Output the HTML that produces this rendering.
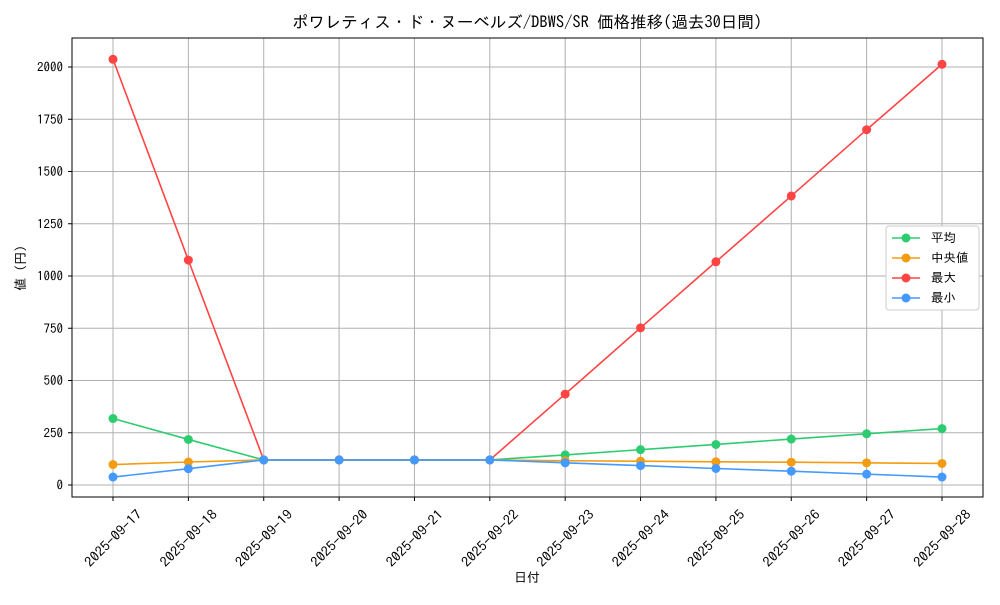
<!DOCTYPE html>
<html><head><meta charset="utf-8"><style>
body{margin:0;background:#fff;}
svg text{font-family:"IPAGothic","Noto Sans CJK JP",monospace;fill:#000;}
</style></head><body>
<svg id="chart" width="1000" height="600" xmlns="http://www.w3.org/2000/svg">
<rect width="1000" height="600" fill="#fff"/>
<text x="527" y="28" font-size="16.5" text-anchor="middle">ポワレティス・ド・ヌーベルズ/DBWS/SR 価格推移(過去30日間)</text>
<g id="grid"></g><g id="axes"></g><g id="series"></g>
<rect x="72" y="38" width="911" height="459" fill="none" stroke="#000" stroke-width="1"/>
<text x="527" y="582" font-size="13" text-anchor="middle">日付</text>
<text transform="translate(25,268) rotate(-90)" font-size="13" text-anchor="middle">値 (円)</text>
<g id="legend"></g>
</svg>
<script>
const dates=["2025-09-17","2025-09-18","2025-09-19","2025-09-20","2025-09-21","2025-09-22","2025-09-23","2025-09-24","2025-09-25","2025-09-26","2025-09-27","2025-09-28"];
const avgValues=[318,218,120,120,120,120,144,169,194,220,245,270];
const medianValues=[98,110,120,120,120,120,116,114,111,109,106,103];
const maxValues=[2037,1076,120,120,120,120,435,752,1068,1383,1700,2013];
const minValues=[38,78,120,120,120,120,106,93,79,66,52,38];
const yTicks=[0,250,500,750,1000,1250,1500,1750,2000];
const seriesNames=["平均","中央値","最大","最小"];
const ns="http://www.w3.org/2000/svg";
const X=i=>113+i*(942-113)/11;
const Y=v=>485-v*0.209;
function mk(t,a,p){const e=document.createElementNS(ns,t);for(const k in a)e.setAttribute(k,a[k]);p.appendChild(e);return e;}
const grid=document.getElementById('grid'),axes=document.getElementById('axes'),ser=document.getElementById('series'),leg=document.getElementById('legend');
yTicks.forEach(v=>{
 const l=mk('line',{x1:72,x2:983,y1:Y(v),y2:Y(v),stroke:'#b0b0b0','stroke-width':1},grid);
 
 
 mk('line',{x1:68,x2:72,y1:Y(v),y2:Y(v),stroke:'#000'},axes);
 const t=mk('text',{x:63,y:Y(v)+4.5,'font-size':13,'text-anchor':'end'},axes);t.textContent=v;
 
 
});
dates.forEach((d,i)=>{
 const l=mk('line',{x1:X(i),x2:X(i),y1:38,y2:497,stroke:'#b0b0b0','stroke-width':1},grid);
 
 
 mk('line',{x1:X(i),x2:X(i),y1:497,y2:501,stroke:'#000'},axes);
 const t=mk('text',{x:0,y:5,'font-size':13.5,'text-anchor':'middle',textLength:74,lengthAdjust:'spacingAndGlyphs',transform:`translate(${X(i)},${538}) rotate(-45)`},axes);t.textContent=d;
 
 
});
const all=[avgValues,medianValues,maxValues,minValues];
const colors=["#2ecc71","#f39c12","#ff4444","#4499ff"];
const sNames=["series-average","series-median","series-max","series-min"];
[2,0,1,3].forEach(k=>{
 const g=mk('g',{},ser);
 
 
 mk('polyline',{points:all[k].map((v,i)=>X(i)+','+Y(v)).join(' '),fill:'none',stroke:colors[k],'stroke-width':1.6},g);
 all[k].forEach((v,i)=>{const c=mk('circle',{cx:X(i),cy:Y(v),r:4.5,fill:colors[k]},g);
  
  });
});
const lb=mk('rect',{x:886,y:226,width:93,height:84,rx:3,fill:'#fff',stroke:'#ccc'},leg);


seriesNames.forEach((n,k)=>{
 const y=238+k*20;
 const g=mk('g',{},leg);
 
 
 mk('line',{x1:892,x2:920,y1:y,y2:y,stroke:colors[k],'stroke-width':1.6},g);
 mk('circle',{cx:906,cy:y,r:4.5,fill:colors[k]},g);
 const t=mk('text',{x:931,y:y+4,'font-size':12.5},g);t.textContent=n;
});
</script>
</body></html>
